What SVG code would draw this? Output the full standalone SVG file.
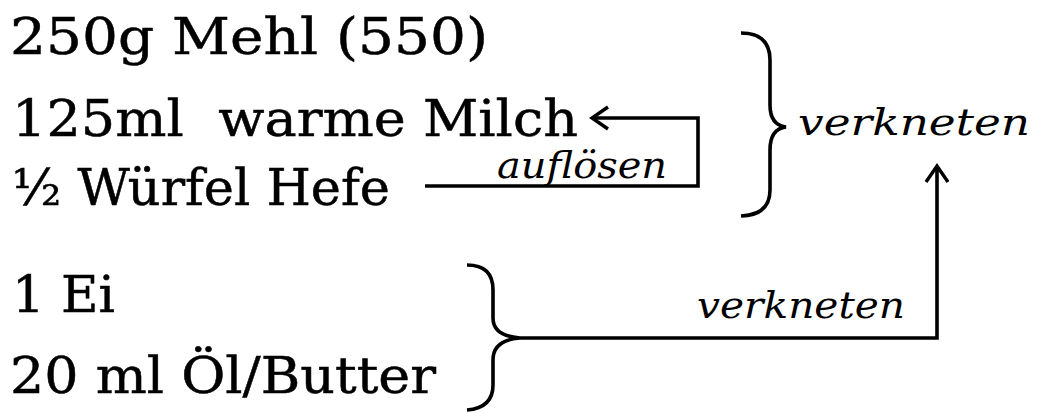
<svg xmlns="http://www.w3.org/2000/svg" width="1039" height="413" viewBox="0 0 1039 413">
<style>
.t{font-family:"DejaVu Serif","Liberation Serif",serif;font-size:50px;fill:#000;stroke:#000;stroke-width:0.5}
.i{font-family:"DejaVu Serif","Liberation Serif",serif;font-style:italic;font-size:38px;fill:#000}
.ln{fill:none;stroke:#000;stroke-width:3.6}
</style>
<defs>
<marker id="ah" markerWidth="24" markerHeight="26" refX="18" refY="13" orient="auto" markerUnits="userSpaceOnUse">
<path d="M2,2 L18,13 L2,24" fill="none" stroke="#000" stroke-width="3.4"/>
</marker>
</defs>
<g id="n1"><text class="t" x="10" y="54" textLength="478" lengthAdjust="spacingAndGlyphs">250g Mehl (550)</text></g>
<g id="n2"><text class="t" x="12" y="136" textLength="566" lengthAdjust="spacingAndGlyphs" xml:space="preserve">125ml  warme Milch</text></g>
<g id="n3"><text class="t" x="12" y="205" textLength="378" lengthAdjust="spacingAndGlyphs">½ Würfel Hefe</text></g>
<g id="n4"><text class="t" x="12" y="312" textLength="103" lengthAdjust="spacingAndGlyphs">1 Ei</text></g>
<g id="n5"><text class="t" x="10" y="393" textLength="426" lengthAdjust="spacingAndGlyphs">20 ml Öl/Butter</text></g>
<g id="l1"><text class="i" x="497" y="178" textLength="170" lengthAdjust="spacingAndGlyphs">auflösen</text></g>
<g id="l2"><text class="i" x="798" y="135" textLength="232" lengthAdjust="spacingAndGlyphs">verkneten</text></g>
<g id="l3"><text class="i" x="697" y="318" textLength="208" lengthAdjust="spacingAndGlyphs">verkneten</text></g>
<g id="b1"><path class="ln" d="M741,33 Q770,33 770,60 L770,105 Q770,125 786,127 Q770,129 770,150 L770,190 Q770,215 741,216"/></g>
<g id="b2"><path class="ln" d="M467,265 Q493,265 493,290 L493,318 Q493,336 520,338 Q493,340 493,360 L493,385 Q493,408 467,410"/></g>
<g id="connectors">
<path class="ln" d="M425,186 L698,186 L698,118 L592,118" marker-end="url(#ah)"/>
<path class="ln" d="M520,338 L937,338 L937,166" marker-end="url(#ah)"/>
</g>
</svg>
